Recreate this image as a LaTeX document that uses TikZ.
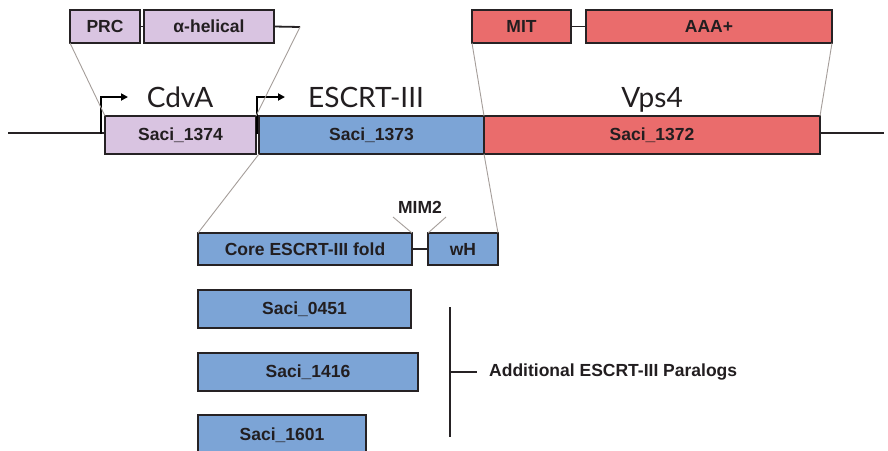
\documentclass[tikz,border=0pt]{standalone}
\usepackage{fontspec}
\setmainfont{Liberation Sans}
\newfontfamily\titlefont{Lato}
\usetikzlibrary{arrows.meta}
\definecolor{cdvcol}{RGB}{217,196,225}
\definecolor{escol}{RGB}{124,164,214}
\definecolor{vpscol}{RGB}{234,108,108}
\definecolor{edgecol}{RGB}{38,34,36}
\definecolor{zoomcol}{RGB}{165,158,154}
\definecolor{txtcol}{RGB}{34,30,32}
\tikzset{
  gbox/.style={draw=edgecol, line width=1.8pt, inner sep=0pt, outer sep=0pt, anchor=north west,
    text=txtcol, font=\fontsize{17.5}{20}\selectfont\bfseries},
  cdv/.style={gbox, fill=cdvcol},
  esc/.style={gbox, fill=escol},
  vps/.style={gbox, fill=vpscol},
  genename/.style={font=\titlefont\fontsize{28}{32}\selectfont, text=txtcol, anchor=base, inner sep=0pt},
  dna/.style={draw=edgecol, line width=1.8pt},
  link/.style={draw=edgecol, line width=1.8pt},
  zoomline/.style={draw=zoomcol, line width=0.9pt},
  prom/.style={draw=black, line width=1.8pt, -{Triangle[length=7pt,width=7pt]}},
  lbl/.style={text=txtcol, font=\fontsize{17.5}{20}\selectfont\bfseries, inner sep=0pt},
}
\begin{document}
\begin{tikzpicture}[x=1pt,y=-1pt]
\clip (0,0) rectangle (888,450);
\fill[white] (0,0) rectangle (888,450);

% DNA line
\coordinate (dnaL) at (8,133);
\coordinate (dnaR) at (884,133);
\draw[dna] (dnaL) -- (dnaR);

% gene boxes
\node[cdv, minimum width=151pt, minimum height=38pt] (s1374) at (105,116) {Saci\_1374};
\node[esc, minimum width=225pt, minimum height=38pt] (s1373) at (259,116) {Saci\_1373};
\node[vps, minimum width=336pt, minimum height=38pt] (s1372) at (484,116) {Saci\_1372};

% promoters
\coordinate (p1) at (101,134);
\coordinate (p1tip) at (128,97);
\draw[prom] (p1) |- (p1tip);
\coordinate (p2) at (257,134);
\coordinate (p2tip) at (285,97);
\draw[prom] (p2) |- (p2tip);

% gene names
\node[genename] (nCdvA) at (180,107) {CdvA};
\node[genename] (nESCRT) at (366,107) {ESCRT-III};
\node[genename] (nVps4) at (652,107) {Vps4};

% CdvA domains
\node[cdv, minimum width=70pt, minimum height=33pt] (prc) at (70,10) {PRC};
\node[cdv, minimum width=130pt, minimum height=33pt] (ahel) at (144,10) {α-helical};
\draw[link] (prc.east) -- (ahel.west);
\coordinate (cend) at (300,27);
\draw[link] (ahel.east) -- (cend);
\draw[zoomline] (prc.south west) -- (s1374.north west);
\draw[zoomline] (cend) -- (s1374.north east);

% Vps4 domains
\node[vps, minimum width=99pt, minimum height=33pt] (mit) at (472,10) {MIT};
\node[vps, minimum width=246pt, minimum height=33pt] (aaa) at (586,10) {AAA+};
\draw[link] (mit.east) -- (aaa.west);
\draw[zoomline] (mit.south west) -- (s1372.north west);
\draw[zoomline] (aaa.south east) -- (s1372.north east);

% ESCRT-III domains
\node[esc, minimum width=214pt, minimum height=32pt] (core) at (198,233) {Core ESCRT-III fold};
\node[esc, minimum width=70pt, minimum height=32pt] (wh) at (428,233) {wH};
\draw[link] (core.east) -- (wh.west);
\draw[zoomline] (s1373.south west) -- (core.north west);
\draw[zoomline] (s1373.south east) -- (wh.north east);
\node[lbl] (mim) at (420,207) {MIM2};
\coordinate (m1) at (393,217);
\coordinate (m2) at (446,217);
\draw[zoomline] (m1) -- (core.north east);
\draw[zoomline] (m2) -- (wh.north west);

% paralogs
\node[esc, minimum width=213pt, minimum height=38pt] (s0451) at (198,290) {Saci\_0451};
\node[esc, minimum width=220pt, minimum height=38pt] (s1416) at (198,353) {Saci\_1416};
\node[esc, minimum width=168pt, minimum height=40pt] (s1601) at (198,415) {Saci\_1601};

\coordinate (bTop) at (450,307);
\coordinate (bBot) at (450,437);
\coordinate (bMid) at (450,372);
\draw[link] (bTop) -- (bBot);
\node[lbl, anchor=west, inner xsep=12pt] (addl) at (477,372) {Additional ESCRT-III Paralogs};
\draw[link] (bMid) -- (addl.west);
\end{tikzpicture}
\end{document}
